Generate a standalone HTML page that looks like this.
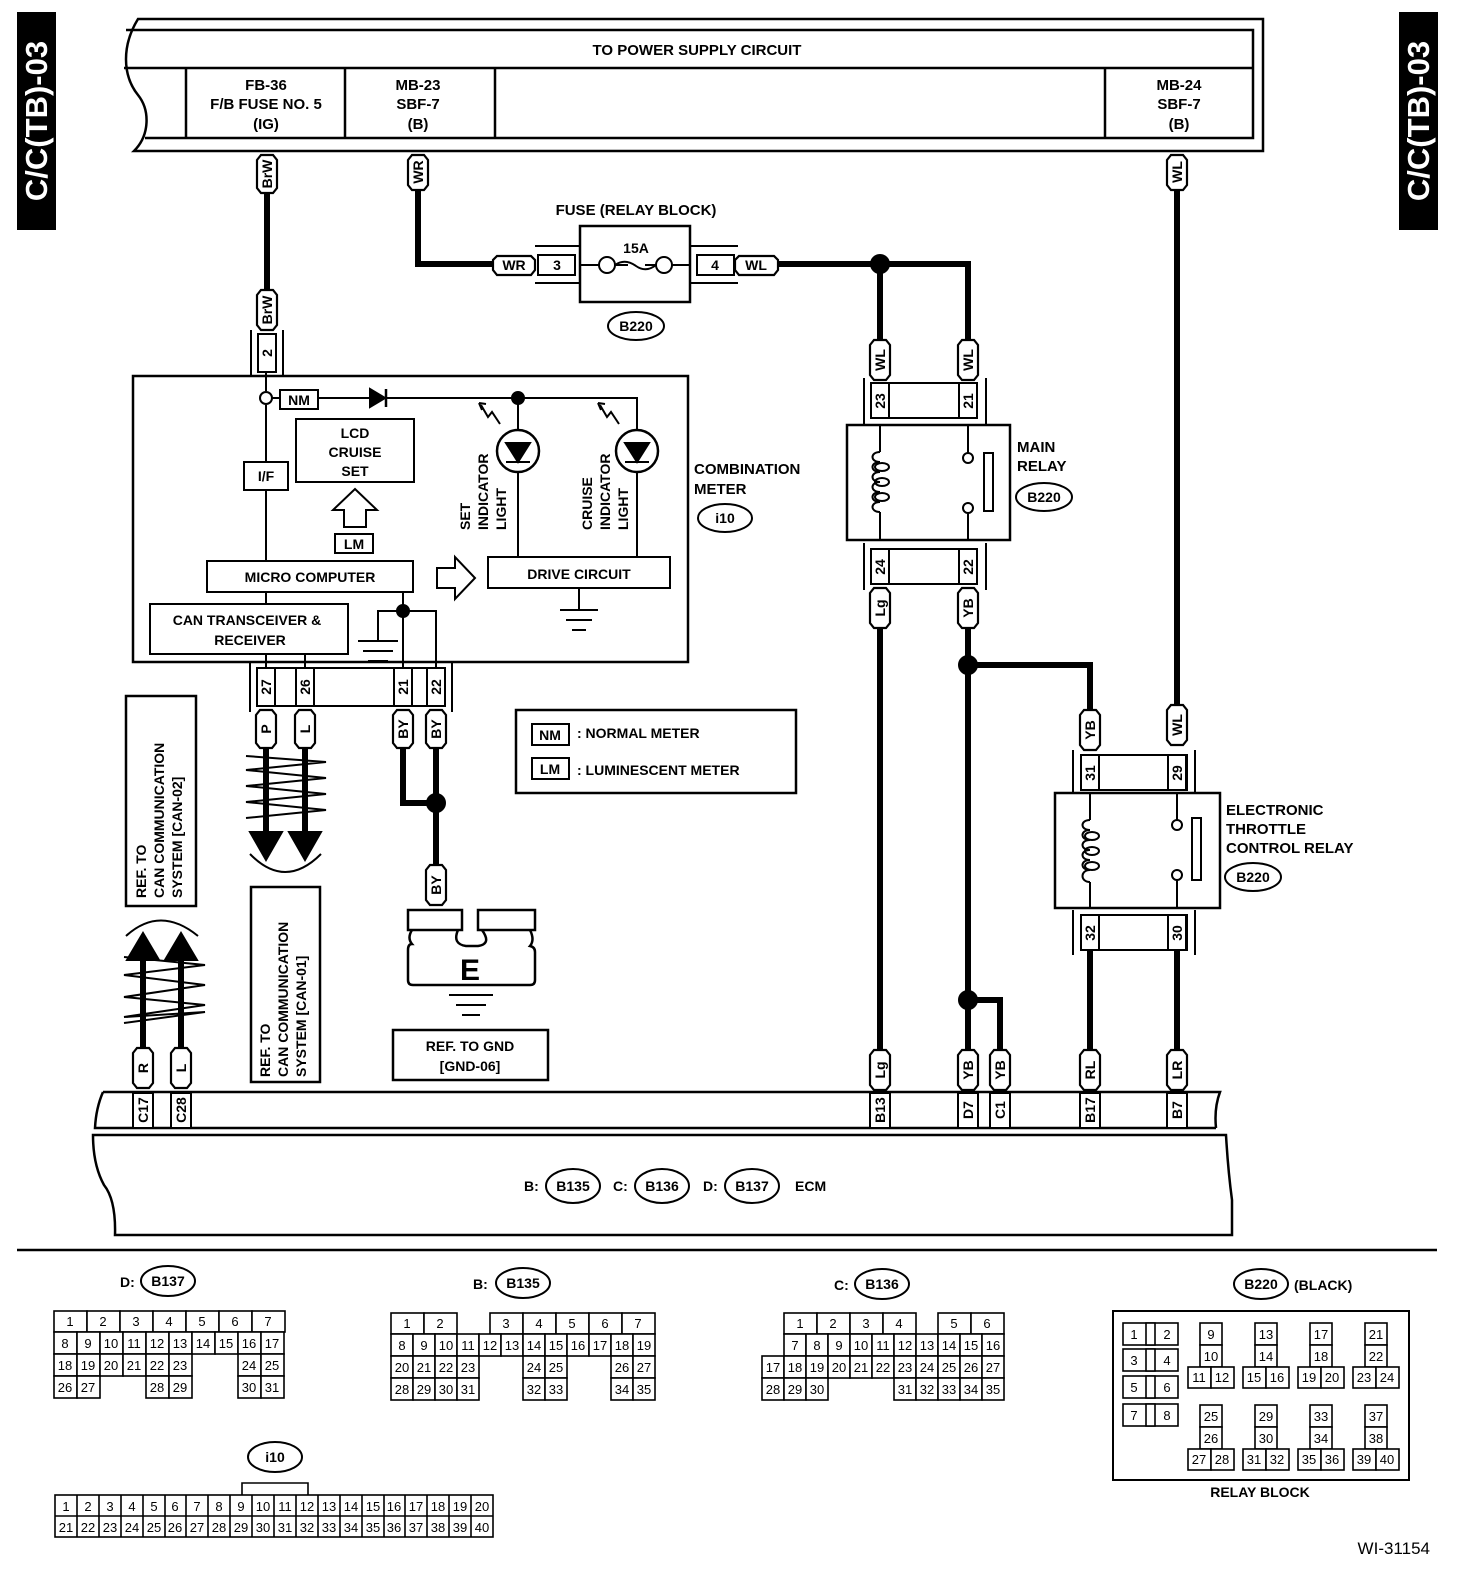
<!DOCTYPE html>
<html><head><meta charset="utf-8">
<style>
html,body{margin:0;padding:0;background:#fff;}
svg{display:block;}
text{font-family:"Liberation Sans",Arial,sans-serif;font-weight:bold;fill:#000;stroke:none;}
.t{font-size:15px;}
.s{font-size:14px;}
.g text{font-size:13px;font-weight:normal;text-anchor:middle;stroke:none;}
.g rect{fill:#fff;stroke:#000;stroke-width:1.6;}
</style></head><body>
<svg width="1472" height="1576" viewBox="0 0 1472 1576" xmlns="http://www.w3.org/2000/svg" fill="none" stroke="#000" stroke-width="2">

<rect x="17" y="12" width="39" height="218" fill="#000" stroke="none"/>
<text transform="translate(47,121) rotate(-90)" text-anchor="middle" style="font-size:31px;fill:#fff">C/C(TB)-03</text>
<rect x="1399" y="12" width="39" height="218" fill="#000" stroke="none"/>
<text transform="translate(1429,121) rotate(-90)" text-anchor="middle" style="font-size:31px;fill:#fff">C/C(TB)-03</text>

<path d="M138 19 H1263 V151 H134 C150 135 150 110 138 95 C122 75 122 45 138 19 Z" stroke-width="2.5"/>
<path d="M126 30 H1253 V138 H145 M124 68 H1253" stroke-width="2.5"/>
<path d="M186 68 V138 M345 68 V138 M495 68 V138 M1105 68 V138" stroke-width="2.5"/>
<g class="t" text-anchor="middle">
<text x="697" y="55">TO POWER SUPPLY CIRCUIT</text>
<text x="266" y="90">FB-36</text><text x="266" y="109">F/B FUSE NO. 5</text><text x="266" y="129">(IG)</text>
<text x="418" y="90">MB-23</text><text x="418" y="109">SBF-7</text><text x="418" y="129">(B)</text>
<text x="1179" y="90">MB-24</text><text x="1179" y="109">SBF-7</text><text x="1179" y="129">(B)</text>
</g>

<g stroke-width="6" stroke-linejoin="miter">
<path d="M267 193 V290"/>
<path d="M418 190 V264 H493"/>
<path d="M778 264 H968 V340 M880 264 V340"/>
<path d="M1177 190 V705"/>
<path d="M880 628 V1050"/>
<path d="M968 628 V1050 M968 665 H1090 V710 M968 1000 H1000 V1050"/>
<path d="M1090 950 V1050 M1177 950 V1050"/>
<path d="M403 748 V803 H436 M436 748 V865"/>
<path d="M266 748 V835 M305 748 V835"/>
<path d="M143 1048 V955 M181 1048 V955"/>
</g>
<circle cx="880" cy="264" r="9" fill="#000"/>
<circle cx="968" cy="665" r="9" fill="#000"/>
<circle cx="968" cy="1000" r="9" fill="#000"/>
<circle cx="436" cy="803" r="9" fill="#000"/>

<g fill="#fff" stroke-width="2.2">
<path d="M257 160 L261 155 H273 L277 160 V188 L273 193 H261 L257 188 Z"/>
<path d="M257 295 L261 290 H273 L277 295 V325 L273 330 H261 L257 325 Z"/>
<path d="M408 160 L412 155 H424 L428 160 V185 L424 190 H412 L408 185 Z"/>
<path d="M1167 160 L1171 155 H1183 L1187 160 V185 L1183 190 H1171 L1167 185 Z"/>
<path d="M870 345 L874 340 H886 L890 345 V375 L886 380 H874 L870 375 Z"/>
<path d="M958 345 L962 340 H974 L978 345 V375 L974 380 H962 L958 375 Z"/>
<path d="M870 593 L874 588 H886 L890 593 V623 L886 628 H874 L870 623 Z"/>
<path d="M958 593 L962 588 H974 L978 593 V623 L974 628 H962 L958 623 Z"/>
<path d="M1080 715 L1084 710 H1096 L1100 715 V745 L1096 750 H1084 L1080 745 Z"/>
<path d="M1167 710 L1171 705 H1183 L1187 710 V740 L1183 745 H1171 L1167 740 Z"/>
<path d="M256 715 L260 710 H272 L276 715 V743 L272 748 H260 L256 743 Z"/>
<path d="M295 715 L299 710 H311 L315 715 V743 L311 748 H299 L295 743 Z"/>
<path d="M393 715 L397 710 H409 L413 715 V743 L409 748 H397 L393 743 Z"/>
<path d="M426 715 L430 710 H442 L446 715 V743 L442 748 H430 L426 743 Z"/>
<path d="M426 870 L430 865 H442 L446 870 V900 L442 905 H430 L426 900 Z"/>
<path d="M133 1053 L137 1048 H149 L153 1053 V1083 L149 1088 H137 L133 1083 Z"/>
<path d="M171 1053 L175 1048 H187 L191 1053 V1083 L187 1088 H175 L171 1083 Z"/>
<path d="M870 1055 L874 1050 H886 L890 1055 V1085 L886 1090 H874 L870 1085 Z"/>
<path d="M958 1055 L962 1050 H974 L978 1055 V1085 L974 1090 H962 L958 1085 Z"/>
<path d="M990 1055 L994 1050 H1006 L1010 1055 V1085 L1006 1090 H994 L990 1085 Z"/>
<path d="M1080 1055 L1084 1050 H1096 L1100 1055 V1085 L1096 1090 H1084 L1080 1085 Z"/>
<path d="M1167 1055 L1171 1050 H1183 L1187 1055 V1085 L1183 1090 H1171 L1167 1085 Z"/>
<path d="M497 256 H531 L535 260 V270 L531 275 H497 L493 270 V260 Z"/>
<path d="M739 256 H774 L778 260 V270 L774 275 H739 L735 270 V260 Z"/>
</g>
<g class="s" text-anchor="middle">
<text transform="translate(272,174) rotate(-90)">BrW</text>
<text transform="translate(272,310) rotate(-90)">BrW</text>
<text transform="translate(423,172) rotate(-90)">WR</text>
<text transform="translate(1182,172) rotate(-90)">WL</text>
<text transform="translate(885,360) rotate(-90)">WL</text>
<text transform="translate(973,360) rotate(-90)">WL</text>
<text transform="translate(885,608) rotate(-90)">Lg</text>
<text transform="translate(973,608) rotate(-90)">YB</text>
<text transform="translate(1095,730) rotate(-90)">YB</text>
<text transform="translate(1182,725) rotate(-90)">WL</text>
<text transform="translate(271,729) rotate(-90)">P</text>
<text transform="translate(310,729) rotate(-90)">L</text>
<text transform="translate(408,729) rotate(-90)">BY</text>
<text transform="translate(441,729) rotate(-90)">BY</text>
<text transform="translate(441,885) rotate(-90)">BY</text>
<text transform="translate(148,1068) rotate(-90)">R</text>
<text transform="translate(186,1068) rotate(-90)">L</text>
<text transform="translate(885,1070) rotate(-90)">Lg</text>
<text transform="translate(973,1070) rotate(-90)">YB</text>
<text transform="translate(1005,1070) rotate(-90)">YB</text>
<text transform="translate(1095,1070) rotate(-90)">RL</text>
<text transform="translate(1182,1070) rotate(-90)">LR</text>
<text x="514" y="270">WR</text>
<text x="756" y="270">WL</text>
</g>

<text x="636" y="215" class="t" text-anchor="middle">FUSE (RELAY BLOCK)</text>
<path d="M535 246 H580 M535 283 H580 M690 246 H738 M690 283 H738"/>
<rect x="538" y="255" width="37" height="20" fill="#fff"/>
<rect x="697" y="255" width="37" height="20" fill="#fff"/>
<text x="557" y="270" class="s" text-anchor="middle">3</text>
<text x="715" y="270" class="s" text-anchor="middle">4</text>
<rect x="580" y="226" width="110" height="76" stroke-width="2.5"/>
<path d="M580 265 H599 M615 265 H628 M645 265 H656 M672 265 H690"/>
<circle cx="607" cy="265" r="8"/><circle cx="664" cy="265" r="8"/>
<path d="M615 265 Q625 258 636 266 Q646 273 656 265"/>
<text x="636" y="253" class="s" text-anchor="middle">15A</text>
<ellipse cx="636" cy="326" rx="28" ry="14"/>
<text x="636" y="331" class="s" text-anchor="middle">B220</text>

<path d="M251 330 V376 M283 330 V376"/>
<rect x="258" y="334" width="18" height="38" fill="#fff"/>
<text transform="translate(272,353) rotate(-90)" class="s" text-anchor="middle">2</text>

<rect x="133" y="376" width="555" height="286" stroke-width="2.5"/>
<path d="M266 372 V391 M266 405 V462 M266 490 V561 M266 592 V604 M266 654 V668 M305 654 V668"/>
<circle cx="266" cy="398" r="6" fill="#fff"/>
<path d="M272 398 H280 M318 398 H637 V430 M518 398 V430 M518 472 V557 M637 472 V557"/>
<rect x="280" y="390" width="38" height="19" fill="#fff"/>
<text x="299" y="405" class="s" text-anchor="middle">NM</text>
<path d="M370 389 L385 398 L370 407 Z" fill="#000"/><path d="M386 389 V407" stroke-width="2.5"/>
<circle cx="518" cy="398" r="6" fill="#000"/>
<circle cx="518" cy="451" r="21" stroke-width="2.5"/>
<path d="M506 443 H530 L518 462 Z" fill="#000"/><path d="M506 462 H530"/>
<circle cx="637" cy="451" r="21" stroke-width="2.5"/>
<path d="M625 443 H649 L637 462 Z" fill="#000"/><path d="M625 462 H649"/>
<path d="M481 405 L488 417 L492 412 L500 424 M479 403 L486 404 M479 403 L482 410" stroke-width="2"/>
<path d="M600 405 L607 417 L611 412 L619 424 M598 403 L605 404 M598 403 L601 410" stroke-width="2"/>
<g class="s">
<text transform="translate(470,530) rotate(-90)">SET</text>
<text transform="translate(488,530) rotate(-90)">INDICATOR</text>
<text transform="translate(506,530) rotate(-90)">LIGHT</text>
<text transform="translate(592,530) rotate(-90)">CRUISE</text>
<text transform="translate(610,530) rotate(-90)">INDICATOR</text>
<text transform="translate(628,530) rotate(-90)">LIGHT</text>
</g>
<rect x="244" y="462" width="44" height="28" fill="#fff"/>
<text x="266" y="481" class="s" text-anchor="middle">I/F</text>
<rect x="296" y="419" width="118" height="63"/>
<g class="s" text-anchor="middle"><text x="355" y="438">LCD</text><text x="355" y="457">CRUISE</text><text x="355" y="476">SET</text></g>
<path d="M355 489 L377 510 H366 V527 H344 V510 H333 Z"/>
<rect x="335" y="534" width="38" height="19"/>
<text x="354" y="549" class="s" text-anchor="middle">LM</text>
<rect x="207" y="561" width="206" height="31"/>
<text x="310" y="582" class="s" text-anchor="middle">MICRO COMPUTER</text>
<path d="M437 568 H455 V557 L475 578 L455 599 V588 H437 Z"/>
<rect x="488" y="557" width="182" height="31"/>
<text x="579" y="579" class="s" text-anchor="middle">DRIVE CIRCUIT</text>
<path d="M579 588 V610 M560 610 H598 M566 620 H592 M572 630 H586"/>
<rect x="150" y="604" width="198" height="50"/>
<g class="s" text-anchor="middle"><text x="247" y="625">CAN TRANSCEIVER &amp;</text><text x="250" y="645">RECEIVER</text></g>
<path d="M403 592 V668 M403 611 H378 V641 M358 641 H398 M363 651 H393 M368 661 H388 M403 611 H436 V668"/>
<circle cx="403" cy="611" r="6" fill="#000"/>
<g class="t"><text x="694" y="474">COMBINATION</text><text x="694" y="494">METER</text></g>
<ellipse cx="725" cy="518" rx="27" ry="14"/>
<text x="725" y="523" class="s" text-anchor="middle">i10</text>

<path d="M250 662 V712 M452 662 V712"/>
<rect x="257" y="668" width="188" height="38"/>
<g fill="#fff"><rect x="257" y="668" width="18" height="38"/><rect x="296" y="668" width="18" height="38"/><rect x="394" y="668" width="18" height="38"/><rect x="427" y="668" width="18" height="38"/></g>
<g class="s" text-anchor="middle">
<text transform="translate(271,687) rotate(-90)">27</text><text transform="translate(310,687) rotate(-90)">26</text>
<text transform="translate(408,687) rotate(-90)">21</text><text transform="translate(441,687) rotate(-90)">22</text>
</g>

<path d="M250 832 H282 L266 860 Z M289 832 H321 L305 860 Z" fill="#000"/>
<path d="M246 756 L326 762 L246 770 L326 778 L246 786 L326 794 L246 802 L326 810 L246 818" stroke-width="2"/>
<path d="M250 854 Q285 890 321 854"/>
<rect x="251" y="887" width="69" height="195" stroke-width="2.5"/>
<g class="s">
<text transform="translate(270,1077) rotate(-90)">REF. TO</text>
<text transform="translate(288,1077) rotate(-90)">CAN COMMUNICATION</text>
<text transform="translate(306,1077) rotate(-90)">SYSTEM [CAN-01]</text>
</g>
<rect x="126" y="696" width="70" height="210" stroke-width="2.5"/>
<g class="s">
<text transform="translate(146,898) rotate(-90)">REF. TO</text>
<text transform="translate(164,898) rotate(-90)">CAN COMMUNICATION</text>
<text transform="translate(182,898) rotate(-90)">SYSTEM [CAN-02]</text>
</g>
<path d="M127 960 H159 L143 933 Z M165 960 H197 L181 933 Z" fill="#000"/>
<path d="M124 957 L205 965 L124 975 L205 985 L124 997 L205 1005 L124 1017 L205 1012 L124 1023" stroke-width="2"/>
<path d="M126 936 Q160 905 198 936"/>

<rect x="408" y="910" width="54" height="20" stroke-width="2.5"/>
<rect x="478" y="910" width="57" height="20" stroke-width="2.5"/>
<path d="M412 930 Q407 938 412 944 Q408 944 408 950 V980 Q408 985 413 985 H530 Q535 985 535 980 V952 Q535 947 530 946 Q535 940 530 930 M458 930 Q452 944 466 946 H478 Q492 944 482 930" stroke-width="2.5"/>
<text x="470" y="980" text-anchor="middle" style="font-size:30px">E</text>
<path d="M449 995 H493 M456 1005 H486 M462 1015 H480"/>
<rect x="393" y="1030" width="155" height="50" stroke-width="2.5"/>
<g class="s" text-anchor="middle"><text x="470" y="1051">REF. TO GND</text><text x="470" y="1071">[GND-06]</text></g>

<rect x="516" y="710" width="280" height="83" stroke-width="2.5"/>
<rect x="532" y="724" width="37" height="21"/><text x="550" y="740" class="s" text-anchor="middle">NM</text>
<text x="577" y="738" class="s">: NORMAL METER</text>
<rect x="532" y="758" width="37" height="21"/><text x="550" y="774" class="s" text-anchor="middle">LM</text>
<text x="577" y="775" class="s">: LUMINESCENT METER</text>

<path d="M864 378 V425 M986 378 V425 M864 543 V590 M986 543 V590"/>
<rect x="871" y="383" width="106" height="35"/>
<g fill="#fff"><rect x="871" y="383" width="18" height="35"/><rect x="959" y="383" width="18" height="35"/>
<rect x="871" y="549" width="18" height="35"/><rect x="959" y="549" width="18" height="35"/></g>
<rect x="871" y="549" width="106" height="35"/>
<rect x="847" y="425" width="163" height="115" stroke-width="2.5"/>
<path d="M880 425 V452 M880 512 V540 M968 425 V453 M968 513 V540"/>
<path d="M880 452 C870 452 870 462 880 462 C870 462 870 472 880 472 C870 472 870 482 880 482 C870 482 870 492 880 492 C870 492 870 502 880 502 C870 502 870 512 880 512"/>
<ellipse cx="882" cy="467" rx="7" ry="4"/><ellipse cx="882" cy="482" rx="7" ry="4"/><ellipse cx="882" cy="497" rx="7" ry="4"/>
<circle cx="968" cy="458" r="5"/><circle cx="968" cy="508" r="5"/>
<rect x="984" y="453" width="9" height="58"/>
<g class="s" text-anchor="middle">
<text transform="translate(885,401) rotate(-90)">23</text><text transform="translate(973,401) rotate(-90)">21</text>
<text transform="translate(885,567) rotate(-90)">24</text><text transform="translate(973,567) rotate(-90)">22</text>
</g>
<g class="t"><text x="1017" y="452">MAIN</text><text x="1017" y="471">RELAY</text></g>
<ellipse cx="1044" cy="497" rx="28" ry="14"/><text x="1044" y="502" class="s" text-anchor="middle">B220</text>

<path d="M1073 750 V793 M1195 750 V793 M1073 910 V955 M1195 910 V955"/>
<rect x="1081" y="755" width="106" height="35"/>
<rect x="1081" y="915" width="106" height="35"/>
<g fill="#fff"><rect x="1081" y="755" width="18" height="35"/><rect x="1168" y="755" width="18" height="35"/>
<rect x="1081" y="915" width="18" height="35"/><rect x="1168" y="915" width="18" height="35"/></g>
<rect x="1055" y="793" width="165" height="115" stroke-width="2.5"/>
<path d="M1090 793 V820 M1090 882 V908 M1177 793 V820 M1177 880 V908"/>
<path d="M1090 820 C1080 820 1080 830 1090 830 C1080 830 1080 840 1090 840 C1080 840 1080 850 1090 850 C1080 850 1080 860 1090 860 C1080 860 1080 870 1090 870 C1080 870 1080 882 1090 882"/>
<ellipse cx="1092" cy="836" rx="7" ry="4"/><ellipse cx="1092" cy="851" rx="7" ry="4"/><ellipse cx="1092" cy="866" rx="7" ry="4"/>
<circle cx="1177" cy="825" r="5"/><circle cx="1177" cy="875" r="5"/>
<rect x="1192" y="818" width="9" height="62"/>
<g class="s" text-anchor="middle">
<text transform="translate(1095,773) rotate(-90)">31</text><text transform="translate(1182,773) rotate(-90)">29</text>
<text transform="translate(1095,933) rotate(-90)">32</text><text transform="translate(1182,933) rotate(-90)">30</text>
</g>
<g class="t"><text x="1226" y="815">ELECTRONIC</text><text x="1226" y="834">THROTTLE</text><text x="1226" y="853">CONTROL RELAY</text></g>
<ellipse cx="1253" cy="877" rx="28" ry="14"/><text x="1253" y="882" class="s" text-anchor="middle">B220</text>

<path d="M103 1092 H1220 Q1214 1108 1216 1128 M103 1092 Q96 1108 95 1128 H1216" stroke-width="2.5"/>
<path d="M93 1135 H1226 Q1228 1170 1232 1200 V1235 H115 Q116 1200 104 1185 Q93 1165 93 1135 Z" stroke-width="2.5"/>
<g fill="#fff"><rect x="133" y="1093" width="20" height="35"/><rect x="171" y="1093" width="20" height="35"/>
<rect x="870" y="1093" width="20" height="35"/><rect x="958" y="1093" width="20" height="35"/><rect x="990" y="1093" width="20" height="35"/>
<rect x="1080" y="1093" width="20" height="35"/><rect x="1167" y="1093" width="20" height="35"/></g>
<g class="s" text-anchor="middle">
<text transform="translate(148,1110) rotate(-90)">C17</text><text transform="translate(186,1110) rotate(-90)">C28</text>
<text transform="translate(885,1110) rotate(-90)">B13</text><text transform="translate(973,1110) rotate(-90)">D7</text>
<text transform="translate(1005,1110) rotate(-90)">C1</text><text transform="translate(1095,1110) rotate(-90)">B17</text>
<text transform="translate(1182,1110) rotate(-90)">B7</text>
</g>
<g class="s"><text x="524" y="1191">B:</text><text x="613" y="1191">C:</text><text x="703" y="1191">D:</text><text x="795" y="1191">ECM</text></g>
<ellipse cx="573" cy="1186" rx="27" ry="17"/><ellipse cx="662" cy="1186" rx="27" ry="17"/><ellipse cx="752" cy="1186" rx="27" ry="17"/>
<g class="s" text-anchor="middle"><text x="573" y="1191">B135</text><text x="662" y="1191">B136</text><text x="752" y="1191">B137</text></g>

<path d="M17 1250 H1437" stroke-width="2.5"/>

<g class="s"><text x="120" y="1287">D:</text><text x="473" y="1289">B:</text><text x="834" y="1290">C:</text><text x="1294" y="1290">(BLACK)</text></g>
<ellipse cx="168" cy="1281" rx="27" ry="15"/><ellipse cx="523" cy="1283" rx="27" ry="15"/><ellipse cx="882" cy="1284" rx="27" ry="15"/><ellipse cx="1261" cy="1284" rx="27" ry="15"/><ellipse cx="275" cy="1457" rx="27" ry="15"/>
<g class="s" text-anchor="middle"><text x="168" y="1286">B137</text><text x="523" y="1288">B135</text><text x="882" y="1289">B136</text><text x="1261" y="1289">B220</text><text x="275" y="1462">i10</text></g>

<g class="g">
<rect x="54" y="1311" width="33" height="21"/><rect x="87" y="1311" width="33" height="21"/><rect x="120" y="1311" width="33" height="21"/><rect x="153" y="1311" width="33" height="21"/><rect x="186" y="1311" width="33" height="21"/><rect x="219" y="1311" width="33" height="21"/><rect x="252" y="1311" width="33" height="21"/>
<text x="70" y="1326">1</text><text x="103" y="1326">2</text><text x="136" y="1326">3</text><text x="169" y="1326">4</text><text x="202" y="1326">5</text><text x="235" y="1326">6</text><text x="268" y="1326">7</text>
<rect x="54" y="1332" width="23" height="22"/><rect x="77" y="1332" width="23" height="22"/><rect x="100" y="1332" width="23" height="22"/><rect x="123" y="1332" width="23" height="22"/><rect x="146" y="1332" width="23" height="22"/><rect x="169" y="1332" width="23" height="22"/><rect x="192" y="1332" width="23" height="22"/><rect x="215" y="1332" width="23" height="22"/><rect x="238" y="1332" width="23" height="22"/><rect x="261" y="1332" width="23" height="22"/>
<text x="65" y="1348">8</text><text x="88" y="1348">9</text><text x="111" y="1348">10</text><text x="134" y="1348">11</text><text x="157" y="1348">12</text><text x="180" y="1348">13</text><text x="203" y="1348">14</text><text x="226" y="1348">15</text><text x="249" y="1348">16</text><text x="272" y="1348">17</text>
<rect x="54" y="1354" width="23" height="22"/><rect x="77" y="1354" width="23" height="22"/><rect x="100" y="1354" width="23" height="22"/><rect x="123" y="1354" width="23" height="22"/><rect x="146" y="1354" width="23" height="22"/><rect x="169" y="1354" width="23" height="22"/><rect x="238" y="1354" width="23" height="22"/><rect x="261" y="1354" width="23" height="22"/>
<text x="65" y="1370">18</text><text x="88" y="1370">19</text><text x="111" y="1370">20</text><text x="134" y="1370">21</text><text x="157" y="1370">22</text><text x="180" y="1370">23</text><text x="249" y="1370">24</text><text x="272" y="1370">25</text>
<rect x="54" y="1376" width="23" height="22"/><rect x="77" y="1376" width="23" height="22"/><rect x="146" y="1376" width="23" height="22"/><rect x="169" y="1376" width="23" height="22"/><rect x="238" y="1376" width="23" height="22"/><rect x="261" y="1376" width="23" height="22"/>
<text x="65" y="1392">26</text><text x="88" y="1392">27</text><text x="157" y="1392">28</text><text x="180" y="1392">29</text><text x="249" y="1392">30</text><text x="272" y="1392">31</text>
</g>

<g class="g">
<rect x="391" y="1313" width="33" height="21"/><rect x="424" y="1313" width="33" height="21"/><rect x="490" y="1313" width="33" height="21"/><rect x="523" y="1313" width="33" height="21"/><rect x="556" y="1313" width="33" height="21"/><rect x="589" y="1313" width="33" height="21"/><rect x="622" y="1313" width="33" height="21"/>
<text x="407" y="1328">1</text><text x="440" y="1328">2</text><text x="506" y="1328">3</text><text x="539" y="1328">4</text><text x="572" y="1328">5</text><text x="605" y="1328">6</text><text x="638" y="1328">7</text>
<rect x="391" y="1334" width="22" height="22"/><rect x="413" y="1334" width="22" height="22"/><rect x="435" y="1334" width="22" height="22"/><rect x="457" y="1334" width="22" height="22"/><rect x="479" y="1334" width="22" height="22"/><rect x="501" y="1334" width="22" height="22"/><rect x="523" y="1334" width="22" height="22"/><rect x="545" y="1334" width="22" height="22"/><rect x="567" y="1334" width="22" height="22"/><rect x="589" y="1334" width="22" height="22"/><rect x="611" y="1334" width="22" height="22"/><rect x="633" y="1334" width="22" height="22"/>
<text x="402" y="1350">8</text><text x="424" y="1350">9</text><text x="446" y="1350">10</text><text x="468" y="1350">11</text><text x="490" y="1350">12</text><text x="512" y="1350">13</text><text x="534" y="1350">14</text><text x="556" y="1350">15</text><text x="578" y="1350">16</text><text x="600" y="1350">17</text><text x="622" y="1350">18</text><text x="644" y="1350">19</text>
<rect x="391" y="1356" width="22" height="22"/><rect x="413" y="1356" width="22" height="22"/><rect x="435" y="1356" width="22" height="22"/><rect x="457" y="1356" width="22" height="22"/><rect x="523" y="1356" width="22" height="22"/><rect x="545" y="1356" width="22" height="22"/><rect x="611" y="1356" width="22" height="22"/><rect x="633" y="1356" width="22" height="22"/>
<text x="402" y="1372">20</text><text x="424" y="1372">21</text><text x="446" y="1372">22</text><text x="468" y="1372">23</text><text x="534" y="1372">24</text><text x="556" y="1372">25</text><text x="622" y="1372">26</text><text x="644" y="1372">27</text>
<rect x="391" y="1378" width="22" height="22"/><rect x="413" y="1378" width="22" height="22"/><rect x="435" y="1378" width="22" height="22"/><rect x="457" y="1378" width="22" height="22"/><rect x="523" y="1378" width="22" height="22"/><rect x="545" y="1378" width="22" height="22"/><rect x="611" y="1378" width="22" height="22"/><rect x="633" y="1378" width="22" height="22"/>
<text x="402" y="1394">28</text><text x="424" y="1394">29</text><text x="446" y="1394">30</text><text x="468" y="1394">31</text><text x="534" y="1394">32</text><text x="556" y="1394">33</text><text x="622" y="1394">34</text><text x="644" y="1394">35</text>
</g>

<g class="g">
<rect x="784" y="1313" width="33" height="21"/><rect x="817" y="1313" width="33" height="21"/><rect x="850" y="1313" width="33" height="21"/><rect x="883" y="1313" width="33" height="21"/><rect x="938" y="1313" width="33" height="21"/><rect x="971" y="1313" width="33" height="21"/>
<text x="800" y="1328">1</text><text x="833" y="1328">2</text><text x="866" y="1328">3</text><text x="899" y="1328">4</text><text x="954" y="1328">5</text><text x="987" y="1328">6</text>
<rect x="784" y="1334" width="22" height="22"/><rect x="806" y="1334" width="22" height="22"/><rect x="828" y="1334" width="22" height="22"/><rect x="850" y="1334" width="22" height="22"/><rect x="872" y="1334" width="22" height="22"/><rect x="894" y="1334" width="22" height="22"/><rect x="916" y="1334" width="22" height="22"/><rect x="938" y="1334" width="22" height="22"/><rect x="960" y="1334" width="22" height="22"/><rect x="982" y="1334" width="22" height="22"/>
<text x="795" y="1350">7</text><text x="817" y="1350">8</text><text x="839" y="1350">9</text><text x="861" y="1350">10</text><text x="883" y="1350">11</text><text x="905" y="1350">12</text><text x="927" y="1350">13</text><text x="949" y="1350">14</text><text x="971" y="1350">15</text><text x="993" y="1350">16</text>
<rect x="762" y="1356" width="22" height="22"/><rect x="784" y="1356" width="22" height="22"/><rect x="806" y="1356" width="22" height="22"/><rect x="828" y="1356" width="22" height="22"/><rect x="850" y="1356" width="22" height="22"/><rect x="872" y="1356" width="22" height="22"/><rect x="894" y="1356" width="22" height="22"/><rect x="916" y="1356" width="22" height="22"/><rect x="938" y="1356" width="22" height="22"/><rect x="960" y="1356" width="22" height="22"/><rect x="982" y="1356" width="22" height="22"/>
<text x="773" y="1372">17</text><text x="795" y="1372">18</text><text x="817" y="1372">19</text><text x="839" y="1372">20</text><text x="861" y="1372">21</text><text x="883" y="1372">22</text><text x="905" y="1372">23</text><text x="927" y="1372">24</text><text x="949" y="1372">25</text><text x="971" y="1372">26</text><text x="993" y="1372">27</text>
<rect x="762" y="1378" width="22" height="22"/><rect x="784" y="1378" width="22" height="22"/><rect x="806" y="1378" width="22" height="22"/><rect x="894" y="1378" width="22" height="22"/><rect x="916" y="1378" width="22" height="22"/><rect x="938" y="1378" width="22" height="22"/><rect x="960" y="1378" width="22" height="22"/><rect x="982" y="1378" width="22" height="22"/>
<text x="773" y="1394">28</text><text x="795" y="1394">29</text><text x="817" y="1394">30</text><text x="905" y="1394">31</text><text x="927" y="1394">32</text><text x="949" y="1394">33</text><text x="971" y="1394">34</text><text x="993" y="1394">35</text>
</g>

<path d="M242 1495 V1483 H308 V1495" stroke-width="1.6"/>
<g class="g">
<rect x="55" y="1495" width="438" height="42"/>
<path d="M55 1516 H493 M77 1495 V1537 M99 1495 V1537 M121 1495 V1537 M143 1495 V1537 M165 1495 V1537 M186 1495 V1537 M208 1495 V1537 M230 1495 V1537 M252 1495 V1537 M274 1495 V1537 M296 1495 V1537 M318 1495 V1537 M340 1495 V1537 M362 1495 V1537 M384 1495 V1537 M405 1495 V1537 M427 1495 V1537 M449 1495 V1537 M471 1495 V1537" stroke-width="1.6"/>
<text x="66" y="1511">1</text><text x="88" y="1511">2</text><text x="110" y="1511">3</text><text x="132" y="1511">4</text><text x="154" y="1511">5</text><text x="175" y="1511">6</text><text x="197" y="1511">7</text><text x="219" y="1511">8</text><text x="241" y="1511">9</text><text x="263" y="1511">10</text><text x="285" y="1511">11</text><text x="307" y="1511">12</text><text x="329" y="1511">13</text><text x="351" y="1511">14</text><text x="373" y="1511">15</text><text x="394" y="1511">16</text><text x="416" y="1511">17</text><text x="438" y="1511">18</text><text x="460" y="1511">19</text><text x="482" y="1511">20</text>
<text x="66" y="1532">21</text><text x="88" y="1532">22</text><text x="110" y="1532">23</text><text x="132" y="1532">24</text><text x="154" y="1532">25</text><text x="175" y="1532">26</text><text x="197" y="1532">27</text><text x="219" y="1532">28</text><text x="241" y="1532">29</text><text x="263" y="1532">30</text><text x="285" y="1532">31</text><text x="307" y="1532">32</text><text x="329" y="1532">33</text><text x="351" y="1532">34</text><text x="373" y="1532">35</text><text x="394" y="1532">36</text><text x="416" y="1532">37</text><text x="438" y="1532">38</text><text x="460" y="1532">39</text><text x="482" y="1532">40</text>
</g>

<rect x="1113" y="1311" width="296" height="169" stroke-width="2"/>
<text x="1260" y="1497" class="s" text-anchor="middle">RELAY BLOCK</text>
<g class="g">
<rect x="1123" y="1323" width="55" height="22"/><rect x="1146" y="1323" width="9" height="22"/>
<rect x="1123" y="1349" width="55" height="22"/><rect x="1146" y="1349" width="9" height="22"/>
<rect x="1123" y="1376" width="55" height="22"/><rect x="1146" y="1376" width="9" height="22"/>
<rect x="1123" y="1404" width="55" height="22"/><rect x="1146" y="1404" width="9" height="22"/>
<text x="1134" y="1339">1</text><text x="1167" y="1339">2</text><text x="1134" y="1365">3</text><text x="1167" y="1365">4</text><text x="1134" y="1392">5</text><text x="1167" y="1392">6</text><text x="1134" y="1420">7</text><text x="1167" y="1420">8</text>
<rect x="1200" y="1323" width="22" height="22"/><rect x="1200" y="1345" width="22" height="22"/><rect x="1188" y="1367" width="23" height="21"/><rect x="1211" y="1367" width="23" height="21"/>
<text x="1211" y="1339">9</text><text x="1211" y="1361">10</text><text x="1199" y="1382">11</text><text x="1222" y="1382">12</text>
<rect x="1255" y="1323" width="22" height="22"/><rect x="1255" y="1345" width="22" height="22"/><rect x="1243" y="1367" width="23" height="21"/><rect x="1266" y="1367" width="23" height="21"/>
<text x="1266" y="1339">13</text><text x="1266" y="1361">14</text><text x="1254" y="1382">15</text><text x="1277" y="1382">16</text>
<rect x="1310" y="1323" width="22" height="22"/><rect x="1310" y="1345" width="22" height="22"/><rect x="1298" y="1367" width="23" height="21"/><rect x="1321" y="1367" width="23" height="21"/>
<text x="1321" y="1339">17</text><text x="1321" y="1361">18</text><text x="1309" y="1382">19</text><text x="1332" y="1382">20</text>
<rect x="1365" y="1323" width="22" height="22"/><rect x="1365" y="1345" width="22" height="22"/><rect x="1353" y="1367" width="23" height="21"/><rect x="1376" y="1367" width="23" height="21"/>
<text x="1376" y="1339">21</text><text x="1376" y="1361">22</text><text x="1364" y="1382">23</text><text x="1387" y="1382">24</text>
<rect x="1200" y="1405" width="22" height="22"/><rect x="1200" y="1427" width="22" height="22"/><rect x="1188" y="1449" width="23" height="21"/><rect x="1211" y="1449" width="23" height="21"/>
<text x="1211" y="1421">25</text><text x="1211" y="1443">26</text><text x="1199" y="1464">27</text><text x="1222" y="1464">28</text>
<rect x="1255" y="1405" width="22" height="22"/><rect x="1255" y="1427" width="22" height="22"/><rect x="1243" y="1449" width="23" height="21"/><rect x="1266" y="1449" width="23" height="21"/>
<text x="1266" y="1421">29</text><text x="1266" y="1443">30</text><text x="1254" y="1464">31</text><text x="1277" y="1464">32</text>
<rect x="1310" y="1405" width="22" height="22"/><rect x="1310" y="1427" width="22" height="22"/><rect x="1298" y="1449" width="23" height="21"/><rect x="1321" y="1449" width="23" height="21"/>
<text x="1321" y="1421">33</text><text x="1321" y="1443">34</text><text x="1309" y="1464">35</text><text x="1332" y="1464">36</text>
<rect x="1365" y="1405" width="22" height="22"/><rect x="1365" y="1427" width="22" height="22"/><rect x="1353" y="1449" width="23" height="21"/><rect x="1376" y="1449" width="23" height="21"/>
<text x="1376" y="1421">37</text><text x="1376" y="1443">38</text><text x="1364" y="1464">39</text><text x="1387" y="1464">40</text>
</g>

<text x="1430" y="1554" text-anchor="end" style="font-size:17px;font-weight:normal">WI-31154</text>
</svg>
</body></html>
